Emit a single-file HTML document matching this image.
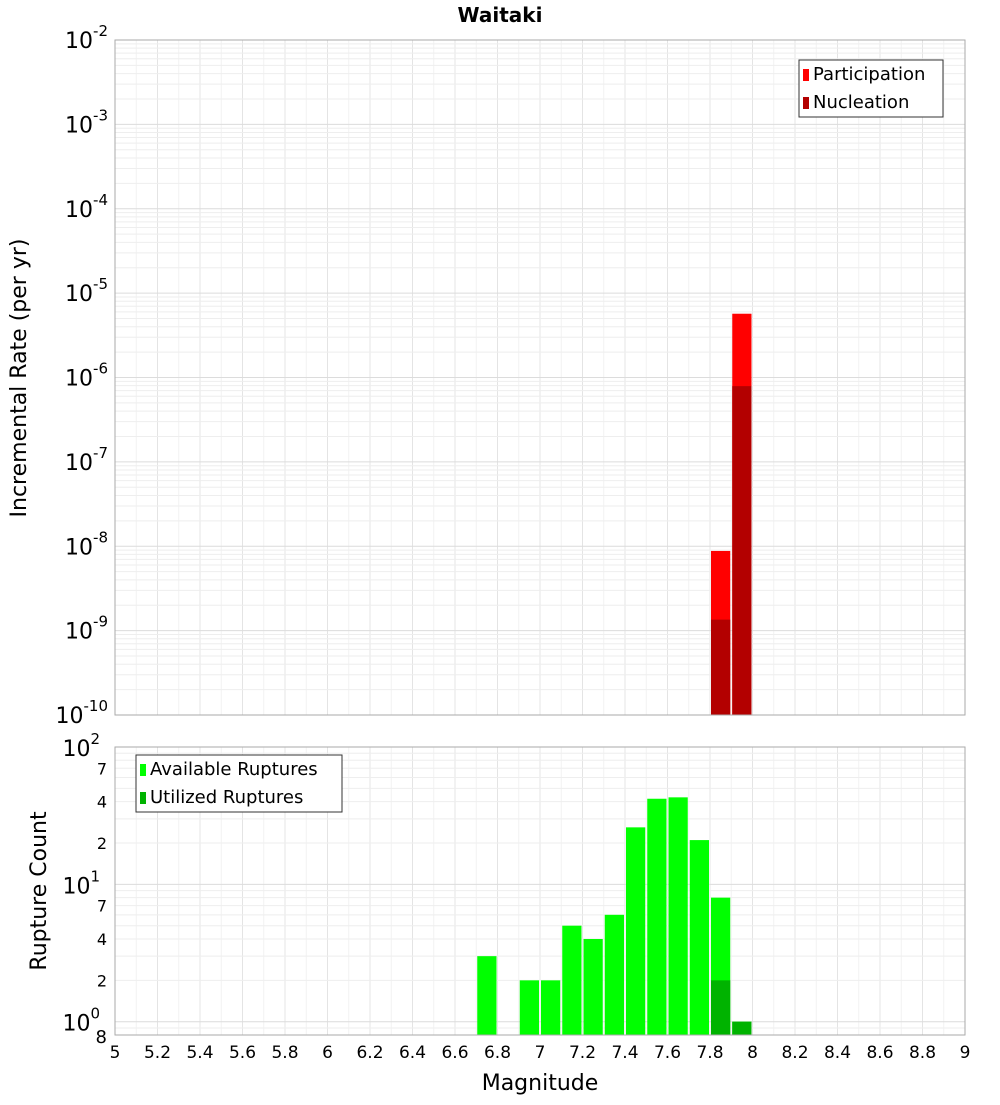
<!DOCTYPE html>
<html><head><meta charset="utf-8"><style>
body{margin:0;background:#fff;font-family:"Liberation Sans","DejaVu Sans",sans-serif}
svg text{font-family:"DejaVu Sans","Liberation Sans",sans-serif}
</style></head><body>
<svg id="c" width="1000" height="1100" xmlns="http://www.w3.org/2000/svg">
<text x="500" y="22" text-anchor="middle" font-size="20" font-weight="bold">Waitaki</text>
<text transform="translate(26,378) rotate(-90)" text-anchor="middle" font-size="22">Incremental Rate (per yr)</text>
<text transform="translate(46,891) rotate(-90)" text-anchor="middle" font-size="22">Rupture Count</text>
<text x="540" y="1090" text-anchor="middle" font-size="22">Magnitude</text>
<g id="topg"></g><g id="botg"></g><g id="xt"></g>
</svg>
<script>
const mags = [6.75,6.95,7.05,7.15,7.25,7.35,7.45,7.55,7.65,7.75,7.85,7.95];
const available = [3,2,2,5,4,6,26,42,43,21,8,1];
const utilizedMags = [7.85,7.95];
const utilized = [2,1];
const rateMags = [7.85,7.95];
const participation = [8.8e-9,5.7e-6];
const nucleation = [1.35e-9,7.9e-7];
const xTicks = [5,5.2,5.4,5.6,5.8,6,6.2,6.4,6.6,6.8,7,7.2,7.4,7.6,7.8,8,8.2,8.4,8.6,8.8,9];
const topExps = [-2,-3,-4,-5,-6,-7,-8,-9,-10];
const botMajor = [100,10,1];
const botMinorLabels = [[70,"7"],[40,"4"],[20,"2"],[7,"7"],[4,"4"],[2,"2"]];

const NS="http://www.w3.org/2000/svg";
const X0=115,X1=965;
const xs=m=>X0+(m-5)/4*(X1-X0);
const TY0=40,TY1=715;
const yT=v=>TY0+(-2-Math.log10(v))/8*(TY1-TY0);
const BY0=747,BY1=1035;
const lmin=Math.log10(0.8);
const yB=v=>BY0+(2-Math.log10(v))/(2-lmin)*(BY1-BY0);
function el(p,t,a){const e=document.createElementNS(NS,t);for(const k in a)e.setAttribute(k,a[k]);p.appendChild(e);return e;}
const topG=document.getElementById('topg'),botG=document.getElementById('botg'),xtG=document.getElementById('xt');

function frame(g,y0,y1,yf,decs){
  const r=el(g,'rect',{x:X0,y:y0,width:X1-X0,height:y1-y0,fill:'#fff'});
  
  
  for(let i=0;i<=40;i++){const m=5+i*0.1;const xx=xs(m);const major=i%2==0;
    el(g,'line',{x1:xx,x2:xx,y1:y0,y2:y1,stroke:major?'#e4e4e4':'#f2f2f2','stroke-width':1});}
  decs.forEach(d=>{for(let k=1;k<10;k++){const v=d*k;const yy=yf(v);if(yy<y0-0.5||yy>y1+0.5)continue;
    el(g,'line',{x1:X0,x2:X1,y1:yy,y2:yy,stroke:k==1?'#dcdcdc':'#eeeeee','stroke-width':1});}});
}
frame(topG,TY0,TY1,yT,topExps.map(e=>Math.pow(10,e)));
frame(botG,BY0,BY1,yB,[0.1,1,10,100]);

rateMags.forEach((m,i)=>{
  const b=el(topG,'rect',{x:xs(m-0.05)+1,y:yT(participation[i]),width:xs(m+0.05)-xs(m-0.05)-2,height:TY1-yT(participation[i]),fill:'#ff0000'});
  
  
  const n=el(topG,'rect',{x:xs(m-0.05)+1,y:yT(nucleation[i]),width:xs(m+0.05)-xs(m-0.05)-2,height:TY1-yT(nucleation[i]),fill:'#b30000'});
  
  
});
mags.forEach((m,i)=>{
  const b=el(botG,'rect',{x:xs(m-0.05)+1,y:yB(available[i]),width:xs(m+0.05)-xs(m-0.05)-2,height:BY1-yB(available[i]),fill:'#00ff00'});
  
  
});
utilizedMags.forEach((m,i)=>{
  const b=el(botG,'rect',{x:xs(m-0.05)+1,y:yB(utilized[i]),width:xs(m+0.05)-xs(m-0.05)-2,height:BY1-yB(utilized[i]),fill:'#00b300'});
  
  
});
el(topG,'rect',{x:X0,y:TY0,width:X1-X0,height:TY1-TY0,fill:'none',stroke:'#aaa'});
el(botG,'rect',{x:X0,y:BY0,width:X1-X0,height:BY1-BY0,fill:'none',stroke:'#aaa'});

topExps.forEach(e=>{
  const t=el(topG,'text',{x:108,y:yT(Math.pow(10,e))+8,'text-anchor':'end','font-size':22});
  
  
  t.innerHTML='10<tspan dy="-12" font-size="15">'+e+'</tspan>';
});
botMajor.forEach(v=>{
  const t=el(botG,'text',{x:100,y:yB(v)+9,'text-anchor':'end','font-size':22});
  
  
  t.innerHTML='10<tspan dy="-12" font-size="15">'+Math.round(Math.log10(v))+'</tspan>';
});
botMinorLabels.forEach(([v,s])=>{
  const t=el(botG,'text',{x:107,y:yB(v)+6,'text-anchor':'end','font-size':16});
  
  
  t.textContent=s;
});
const t8=el(botG,'text',{x:107,y:1043,'text-anchor':'end','font-size':18});


t8.textContent='8';

xTicks.forEach(v=>{
  const t=el(xtG,'text',{x:xs(v),y:1058,'text-anchor':'middle','font-size':17});
  
  
  t.textContent=String(Math.round(v*10)/10);
});

function legend(g,x0,y0,w,items,name){
  const L=el(g,'g',{});
  
  
  el(L,'rect',{x:x0,y:y0,width:w,height:57,fill:'#fff',stroke:'#333'});
  items.forEach(([c,s],i)=>{
    el(L,'rect',{x:x0+4,y:y0+9+i*28,width:6,height:12,fill:c});
    const t=el(L,'text',{x:x0+14,y:y0+20+i*28,'font-size':18});
    
    
    t.textContent=s;
  });
}
legend(topG,799,60,144,[['#ff0000','Participation'],['#b30000','Nucleation']],'top-legend');
legend(botG,136,755,206,[['#00ff00','Available Ruptures'],['#00b300','Utilized Ruptures']],'bottom-legend');
</script>
</body></html>
